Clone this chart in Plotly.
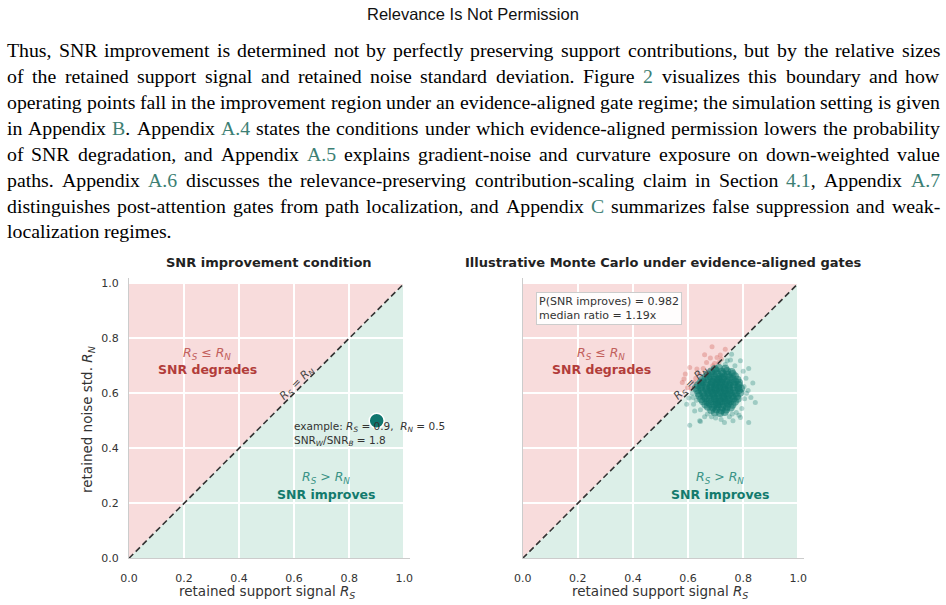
import re
import plotly.graph_objects as go

W, H = 946, 605

# ---------------- data ----------------
TICK_VALS = [0.0, 0.2, 0.4, 0.6, 0.8, 1.0]
TICK_TEXT = ["0.0", "0.2", "0.4", "0.6", "0.8", "1.0"]
AX_LO, AX_HI = 0.0, 1.0
BOUNDARY_RS = [0.0, 1.0]
BOUNDARY_RN = [0.0, 1.0]
EXAMPLE_RS = [0.9]
EXAMPLE_RN = [0.5]
EXAMPLE_RATIO = 1.8
P_IMPROVES = 0.982
MEDIAN_RATIO = 1.19

# Monte Carlo operating points: dense core
MC_CORE_RS = [
    0.697, 0.712, 0.735,
    0.684, 0.701, 0.722, 0.741, 0.758,
    0.671, 0.690, 0.706, 0.727, 0.744, 0.762,
    0.664, 0.681, 0.697, 0.716, 0.733, 0.751, 0.770,
    0.652, 0.675, 0.693, 0.709, 0.726, 0.744, 0.762, 0.779,
    0.645, 0.654, 0.670, 0.686, 0.703, 0.720, 0.738, 0.755, 0.772, 0.785,
    0.636, 0.649, 0.666, 0.683, 0.699, 0.716, 0.734, 0.750, 0.767, 0.783,
    0.628, 0.646, 0.664, 0.680, 0.697, 0.713, 0.731, 0.748, 0.764, 0.781, 0.792,
    0.634, 0.650, 0.667, 0.684, 0.700, 0.717, 0.733, 0.751, 0.767, 0.784,
    0.638, 0.655, 0.671, 0.688, 0.705, 0.722, 0.739, 0.756, 0.773, 0.789,
    0.641, 0.659, 0.676, 0.692, 0.709, 0.727, 0.744, 0.761, 0.777,
    0.648, 0.664, 0.680, 0.697, 0.714, 0.731, 0.748, 0.765, 0.780,
    0.654, 0.671, 0.688, 0.704, 0.721, 0.738, 0.754, 0.770,
    0.663, 0.679, 0.696, 0.713, 0.729, 0.745, 0.761,
    0.672, 0.690, 0.707, 0.724, 0.741, 0.755,
    0.684, 0.703, 0.721, 0.738,
    0.697, 0.716, 0.733,
    0.700, 0.712, 0.724, 0.706, 0.731, 0.718, 0.692, 0.736, 0.698, 0.727,
    0.710, 0.745, 0.684, 0.689, 0.750, 0.715, 0.740, 0.676, 0.725, 0.705,
]
MC_CORE_RN = [
    0.688, 0.692, 0.689,
    0.679, 0.682, 0.678, 0.681, 0.677,
    0.668, 0.672, 0.669, 0.671, 0.667, 0.670,
    0.659, 0.662, 0.658, 0.661, 0.660, 0.657, 0.662,
    0.649, 0.651, 0.648, 0.652, 0.650, 0.647, 0.651, 0.649,
    0.638, 0.641, 0.639, 0.642, 0.640, 0.638, 0.641, 0.639, 0.642, 0.638,
    0.629, 0.631, 0.628, 0.632, 0.630, 0.629, 0.631, 0.628, 0.632, 0.630,
    0.619, 0.621, 0.618, 0.622, 0.620, 0.619, 0.621, 0.618, 0.622, 0.620, 0.617,
    0.611, 0.608, 0.612, 0.609, 0.611, 0.608, 0.612, 0.610, 0.609, 0.611,
    0.599, 0.602, 0.598, 0.601, 0.600, 0.602, 0.598, 0.601, 0.599, 0.602,
    0.591, 0.588, 0.592, 0.589, 0.591, 0.588, 0.592, 0.590, 0.589,
    0.579, 0.582, 0.578, 0.581, 0.579, 0.582, 0.578, 0.581, 0.580,
    0.571, 0.568, 0.572, 0.569, 0.571, 0.568, 0.572, 0.569,
    0.559, 0.562, 0.558, 0.561, 0.559, 0.562, 0.558,
    0.551, 0.548, 0.552, 0.549, 0.551, 0.548,
    0.539, 0.542, 0.538, 0.541,
    0.531, 0.528, 0.532,
    0.615, 0.603, 0.622, 0.632, 0.598, 0.640, 0.598, 0.612, 0.580, 0.585,
    0.650, 0.630, 0.620, 0.640, 0.600, 0.570, 0.575, 0.605, 0.655, 0.560,
]
# Monte Carlo operating points: sparse tail
MC_TAIL_RS = [
    0.687, 0.717, 0.667, 0.696, 0.606, 0.585, 0.579, 0.678, 0.820, 0.835,
    0.844, 0.820, 0.763, 0.732, 0.642, 0.606, 0.624, 0.603, 0.790, 0.754,
    0.705, 0.742, 0.645, 0.790, 0.681, 0.721, 0.620, 0.628, 0.655, 0.800,
    0.810, 0.805, 0.812, 0.795, 0.775, 0.750, 0.700, 0.670, 0.645, 0.615,
    0.612, 0.622, 0.640, 0.770, 0.735, 0.712, 0.690, 0.803, 0.818, 0.828,
    0.785, 0.760, 0.720, 0.685, 0.660, 0.630, 0.618, 0.595, 0.598, 0.758,
    0.735, 0.660, 0.590, 0.632,
]
MC_TAIL_RN = [
    0.769, 0.739, 0.712, 0.708, 0.694, 0.652, 0.639, 0.682, 0.690, 0.637,
    0.567, 0.494, 0.500, 0.494, 0.500, 0.484, 0.536, 0.583, 0.718, 0.721,
    0.730, 0.718, 0.497, 0.512, 0.728, 0.724, 0.560, 0.655, 0.690, 0.680,
    0.655, 0.580, 0.600, 0.545, 0.530, 0.515, 0.510, 0.525, 0.540, 0.600,
    0.618, 0.640, 0.670, 0.700, 0.705, 0.712, 0.700, 0.625, 0.610, 0.585,
    0.520, 0.525, 0.505, 0.515, 0.515, 0.575, 0.585, 0.560, 0.620, 0.742,
    0.760, 0.740, 0.670, 0.688,
]

# ---------------- page text ----------------
PAGE_TITLE = "Relevance Is Not Permission"
BODY_LINES = [
    "Thus, SNR improvement is determined not by perfectly preserving support contributions, but by the relative sizes",
    "of the retained support signal and retained noise standard deviation. Figure [[2]] visualizes this boundary and how",
    "operating points fall in the improvement region under an evidence-aligned gate regime; the simulation setting is given",
    "in Appendix [[B]]. Appendix [[A.4]] states the conditions under which evidence-aligned permission lowers the probability",
    "of SNR degradation, and Appendix [[A.5]] explains gradient-noise and curvature exposure on down-weighted value",
    "paths. Appendix [[A.6]] discusses the relevance-preserving contribution-scaling claim in Section [[4.1]], Appendix [[A.7]]",
    "distinguishes post-attention gates from path localization, and Appendix [[C]] summarizes false suppression and weak-",
    "localization regimes.",
]
LINE_Y = [50, 76, 102, 128, 154, 180, 206, 231]

# ---------------- styles ----------------
RED_BG = "#f8dcdc"
GREEN_BG = "#dcefe8"
TEAL = "#0f766e"
RED_PT = "#d0605a"
RED_TXT = "#b23c3a"
RED_TXT_L = "#c2605c"
TEAL_TXT = "#137a6d"
TEAL_TXT_L = "#3a9386"
LINK = "#3d7f74"
FIG_FONT = "DejaVu Sans"
BODY_FONT = "Liberation Serif"
BODY_SIZE = 19.8
TEXT_LEFT, TEXT_RIGHT = 7, 940

TIMES = {" ": .25, "a": .444, "b": .5, "c": .444, "d": .5, "e": .444, "f": .333, "g": .5,
         "h": .5, "i": .278, "j": .278, "k": .5, "l": .278, "m": .778, "n": .5, "o": .5,
         "p": .5, "q": .5, "r": .333, "s": .389, "t": .278, "u": .5, "v": .5, "w": .722,
         "x": .5, "y": .5, "z": .444, "A": .722, "B": .667, "C": .667, "D": .722,
         "E": .611, "F": .556, "G": .722, "H": .722, "I": .333, "J": .389, "K": .722,
         "L": .611, "M": .889, "N": .722, "O": .722, "P": .556, "Q": .722, "R": .667,
         "S": .556, "T": .611, "U": .722, "V": .722, "W": .944, "X": .722, "Y": .722,
         "Z": .611, ".": .25, ",": .25, "-": .333, ";": .278, ":": .278, "(": .333,
         ")": .333}
for d in "0123456789":
    TIMES[d] = .5


def tw(s, size):
    return sum(TIMES.get(c, .5) for c in s) * size


# axis geometry (paper fractions)
XL_DOM = [129 / W, (129 + 1.02 * 275.2) / W]
XR_DOM = [522.7 / W, (522.7 + 1.02 * 275.6) / W]
Y_DOM = [(H - 558.3) / H, (H - (558.3 - 1.02 * 275)) / H]

fig = go.Figure()

annotations = []
shapes = []


def paper_text(text, px, py, size, color, family=FIG_FONT, angle=0):
    return dict(text=text, x=px / W, y=1 - py / H, xref="paper", yref="paper",
                showarrow=False, xanchor="center", yanchor="middle", textangle=angle,
                borderpad=0, borderwidth=0,
                font=dict(family=family, size=size, color=color))


# page title
annotations.append(paper_text(PAGE_TITLE, 473, 14, 16.5, "#111", family="Liberation Sans"))

# body text, justified word by word
for li, (line, py) in enumerate(zip(BODY_LINES, LINE_Y)):
    tokens = line.split(" ")
    plains = [t.replace("[[", "").replace("]]", "") for t in tokens]
    htmls = [re.sub(r"\[\[(.*?)\]\]", lambda m: f"<span style='color:{LINK}'>{m.group(1)}</span>", t)
             for t in tokens]
    widths = [tw(p, BODY_SIZE) for p in plains]
    last = li == len(BODY_LINES) - 1
    if last or len(tokens) == 1:
        gap = tw(" ", BODY_SIZE)
    else:
        gap = (TEXT_RIGHT - TEXT_LEFT - sum(widths)) / (len(tokens) - 1)
    x = TEXT_LEFT
    for i, (h, wd) in enumerate(zip(htmls, widths)):
        right_end = (not last) and i == len(tokens) - 1 and len(tokens) > 1
        annotations.append(dict(text=h, x=(TEXT_RIGHT if right_end else x) / W, y=1 - py / H,
                                xref="paper", yref="paper", showarrow=False,
                                xanchor="right" if right_end else "left", yanchor="middle",
                                borderpad=0, borderwidth=0,
                                font=dict(family=BODY_FONT, size=BODY_SIZE, color="#000")))
        x += wd + gap

# region shading
for xr, yr in (("x", "y"), ("x2", "y2")):
    shapes.append(dict(type="path", xref=xr, yref=yr, layer="below", line=dict(width=0),
                       fillcolor=RED_BG,
                       path=f"M {AX_LO},{AX_LO} L {AX_HI},{AX_HI} L {AX_LO},{AX_HI} Z"))
    shapes.append(dict(type="path", xref=xr, yref=yr, layer="below", line=dict(width=0),
                       fillcolor=GREEN_BG,
                       path=f"M {AX_LO},{AX_LO} L {AX_HI},{AX_LO} L {AX_HI},{AX_HI} Z"))


def rs(sub):
    return f"<i>R<sub>{sub}</sub></i>"


def split(xs, ys):
    gx, gy, rx, ry = [], [], [], []
    for a, b in zip(xs, ys):
        if a > b:
            gx.append(a); gy.append(b)
        else:
            rx.append(a); ry.append(b)
    return gx, gy, rx, ry


cgx, cgy, crx, cry = split(MC_CORE_RS, MC_CORE_RN)
tgx, tgy, trx, try_ = split(MC_TAIL_RS, MC_TAIL_RN)
fig.add_trace(go.Scatter(x=tgx, y=tgy, mode="markers", xaxis="x2", yaxis="y2",
                         marker=dict(size=5, color=TEAL, opacity=0.3, line=dict(width=0))))
fig.add_trace(go.Scatter(x=trx, y=try_, mode="markers", xaxis="x2", yaxis="y2",
                         marker=dict(size=5, color=RED_PT, opacity=0.35, line=dict(width=0))))
fig.add_trace(go.Scatter(x=cgx, y=cgy, mode="markers", xaxis="x2", yaxis="y2",
                         marker=dict(size=8, color=TEAL, opacity=0.55, line=dict(width=0))))
fig.add_trace(go.Scatter(x=crx, y=cry, mode="markers", xaxis="x2", yaxis="y2",
                         marker=dict(size=7, color=RED_PT, opacity=0.35, line=dict(width=0))))

# boundary lines
for xa, ya in (("x", "y"), ("x2", "y2")):
    fig.add_trace(go.Scatter(x=BOUNDARY_RS, y=BOUNDARY_RN, mode="lines", xaxis=xa, yaxis=ya,
                             line=dict(color="#333333", width=1.6, dash="6px,3.5px"),
                             hoverinfo="skip"))

# example point
fig.add_trace(go.Scatter(x=EXAMPLE_RS, y=EXAMPLE_RN, mode="markers", xaxis="x", yaxis="y",
                         marker=dict(size=15, color=TEAL, line=dict(color="white", width=1.5))))


def data_text(text, x, y, xr, yr, size, color, angle=0):
    return dict(text=text, x=x, y=y, xref=xr, yref=yr, showarrow=False, xanchor="center",
                yanchor="middle", textangle=angle, borderpad=0, borderwidth=0,
                font=dict(family=FIG_FONT, size=size, color=color))


# region labels
for xr, yr in (("x", "y"), ("x2", "y2")):
    annotations += [
        data_text(f"{rs('S')} ≤ {rs('N')}", 0.285, 0.744, xr, yr, 12.5, RED_TXT_L),
        data_text("<b>SNR degrades</b>", 0.285, 0.686, xr, yr, 12.5, RED_TXT),
        data_text(f"{rs('S')} > {rs('N')}", 0.717, 0.293, xr, yr, 12.5, TEAL_TXT_L),
        data_text("<b>SNR improves</b>", 0.717, 0.231, xr, yr, 12.5, TEAL_TXT),
        data_text(f"{rs('S')} = {rs('N')}", 0.612, 0.636, xr, yr, 11, "#444", angle=-45),
    ]

# example note
annotations.append(dict(
    text=(f"example: {rs('S')} = {EXAMPLE_RS[0]:.1f},\u00a0\u00a0{rs('N')} = {EXAMPLE_RN[0]:.1f}"
          f"<br>SNR<sub><i>W</i></sub>/SNR<sub><i>B</i></sub> = {EXAMPLE_RATIO:.1f}"),
    x=0.600, y=0.453, xref="x", yref="y", showarrow=False, xanchor="left", yanchor="middle",
    align="left", borderpad=0, borderwidth=0,
    font=dict(family=FIG_FONT, size=10.5, color="#333")))

# Monte Carlo stats box
annotations.append(dict(
    text=f"P(SNR improves) = {P_IMPROVES:.3f}<br>median ratio = {MEDIAN_RATIO:.2f}x",
    x=0.05, y=0.969, xref="x2", yref="y2", showarrow=False, xanchor="left", yanchor="top",
    align="left", bgcolor="rgba(255,255,255,0.92)", bordercolor="#cccccc", borderwidth=1,
    borderpad=2, font=dict(family=FIG_FONT, size=11, color="#333")))

# panel titles
annotations.append(paper_text("<b>SNR improvement condition</b>", 269, 262, 13, "#222"))
annotations.append(paper_text("<b>Illustrative Monte Carlo under evidence-aligned gates</b>",
                              663, 262, 13, "#222"))
# axis titles
for cx in (267, 660):
    annotations.append(paper_text(f"retained support signal {rs('S')}", cx, 592, 13.5, "#333"))
annotations.append(paper_text(f"retained noise std. {rs('N')}", 88, 420, 13.5, "#333", angle=-90))

axis_common = dict(range=[0, 1.02], tickvals=TICK_VALS, ticktext=TICK_TEXT, showgrid=True,
                   gridcolor="white", gridwidth=1.5, zeroline=False, showline=True,
                   linecolor="#cccccc", linewidth=1.25, ticks="", fixedrange=True,
                   automargin=False,
                   tickfont=dict(family=FIG_FONT, size=11, color="#333"))

fig.update_layout(
    width=W, height=H, autosize=False, margin=dict(l=0, r=0, t=0, b=0, pad=0),
    paper_bgcolor="white", plot_bgcolor="white", showlegend=False,
    xaxis=dict(domain=XL_DOM, anchor="y", ticklabelstandoff=9, **axis_common),
    yaxis=dict(domain=Y_DOM, anchor="x", ticklabelstandoff=7, **axis_common),
    xaxis2=dict(domain=XR_DOM, anchor="y2", ticklabelstandoff=9, **axis_common),
    yaxis2=dict(domain=Y_DOM, anchor="x2", showticklabels=False, **axis_common),
    annotations=annotations, shapes=shapes,
)

fig.write_html("out.html")
